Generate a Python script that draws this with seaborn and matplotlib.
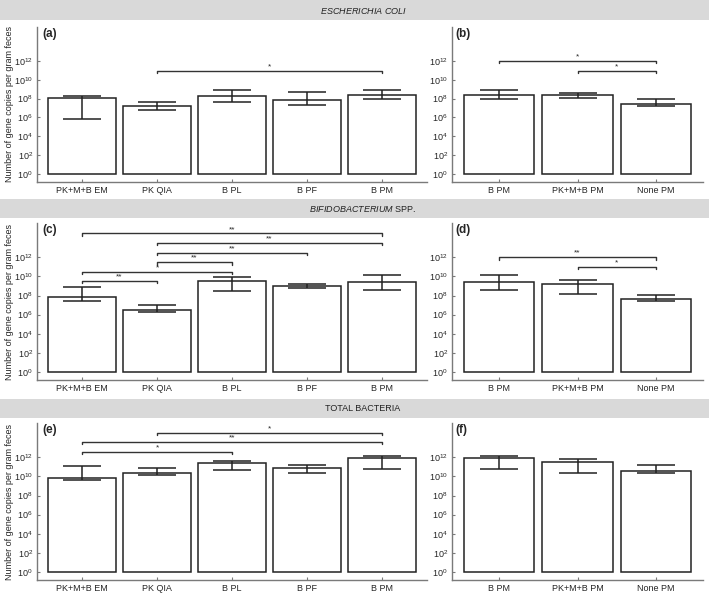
import numpy as np
import pandas as pd
import matplotlib
matplotlib.use("Agg")
import matplotlib.pyplot as plt
import seaborn as sns
from matplotlib.patches import Rectangle

# Valores en log10(copias de gen por gramo de heces)
left_cats = ["PK+M+B EM", "PK QIA", "B PL", "B PF", "B PM"]
right_cats = ["B PM", "PK+M+B PM", "None PM"]

# E. coli
a_mean = [8.07, 7.23, 8.25, 7.82, 8.39]
a_low = [5.79, 6.74, 7.68, 7.37, 7.96]
a_high = [8.25, 7.65, 8.88, 8.74, 8.91]
b_mean = [8.39, 8.39, 7.44]
b_low = [7.96, 8.04, 7.26]
b_high = [8.91, 8.56, 7.96]

# Bifidobacterium
c_mean = [7.87, 6.50, 9.55, 8.99, 9.44]
c_low = [7.45, 6.29, 8.50, 8.78, 8.53]
c_high = [8.88, 6.96, 9.97, 9.16, 10.14]
d_mean = [9.44, 9.23, 7.61]
d_low = [8.53, 8.14, 7.44]
d_high = [10.14, 9.68, 8.04]

# Bacterias totales
e_mean = [9.88, 10.41, 11.44, 10.87, 11.90]
e_low = [9.60, 10.20, 10.66, 10.38, 10.74]
e_high = [11.05, 10.87, 11.58, 11.22, 12.15]
f_mean = [11.90, 11.48, 10.60]
f_low = [10.74, 10.35, 10.35]
f_high = [12.15, 11.83, 11.16]

# Comparaciones significativas: (i, j, altura log10, etiqueta)
a_sig = [(1, 4, 10.95, "*")]
b_sig = [(0, 2, 12.0, "*"), (1, 2, 10.95, "*")]
c_sig = [(0, 1, 9.55, "**"), (0, 2, 10.5, "*"), (1, 2, 11.5, "**"),
         (1, 3, 12.5, "**"), (1, 4, 13.5, "**"), (0, 4, 14.5, "**")]
d_sig = [(0, 2, 12.0, "**"), (1, 2, 11.0, "*")]
e_sig = [(0, 2, 12.57, "*"), (0, 4, 13.6, "**"), (1, 4, 14.6, "*")]
f_sig = []

section_titles = [r"$\mathit{ESCHERICHIA\ COLI}$",
                  r"$\mathit{BIFIDOBACTERIUM}$ SPP.",
                  "TOTAL BACTERIA"]
panel_labels = ["(a)", "(b)", "(c)", "(d)", "(e)", "(f)"]
y_ticks = [0, 2, 4, 6, 8, 10, 12]

sns.set_style("white")
plt.rcParams["font.family"] = ["Liberation Sans", "DejaVu Sans"]
plt.rcParams["mathtext.fontset"] = "custom"
plt.rcParams["mathtext.rm"] = "Liberation Sans"
plt.rcParams["mathtext.it"] = "Liberation Sans:italic"
plt.rcParams["mathtext.bf"] = "Liberation Sans:bold"

W, H = 709, 596
fig = plt.figure(figsize=(W / 100, H / 100), dpi=100)

edge = "#222222"
spine_col = "#7a7a7a"


def draw_panel(ax, cats, mean, low, high, sig, label, ylabel):
    df = pd.DataFrame({"grupo": cats, "valor": mean})
    sns.barplot(data=df, x="grupo", y="valor", ax=ax, color="white",
                edgecolor=edge, linewidth=1.1, width=0.9, saturation=1,
                errorbar=None)
    mean = np.array(mean)
    yerr = [mean - np.array(low), np.array(high) - mean]
    ax.errorbar(np.arange(len(cats)), mean, yerr=yerr, fmt="none",
                ecolor=edge, elinewidth=1.1, capsize=13.5, capthick=1.1)
    for i, j, h, txt in sig:
        ax.plot([i, i, j, j], [h - 0.25, h, h, h - 0.25], color="#333333", lw=1.0)
        ax.text((i + j) / 2, h + 0.05, txt, ha="center", va="bottom", fontsize=6)
    ax.set_xlim(-0.6, len(cats) - 0.4)
    ax.set_ylim(-0.85, 15.6)
    ax.set_yticks(y_ticks)
    ax.set_yticklabels([r"$10^{%d}$" % k for k in y_ticks])
    ax.set_xlabel("")
    ax.set_ylabel("")
    for s in ["top", "right"]:
        ax.spines[s].set_visible(False)
    for s in ["left", "bottom"]:
        ax.spines[s].set_color(spine_col)
        ax.spines[s].set_linewidth(1.0)
    ax.tick_params(axis="both", direction="in", length=2, width=0.8,
                   color=spine_col, labelsize=6.5, pad=3, left=True, bottom=True)
    ax.text(0.015, 0.995, label, transform=ax.transAxes, fontsize=8.5,
            fontweight="bold", va="top", ha="left")
    if ylabel:
        ax.set_ylabel("Number of gene copies per gram feces", fontsize=6.5)
        ax.yaxis.set_label_coords(-0.058, 0.5)


# bandas grises con los titulos de seccion
bands = [(0, 20), (199, 218), (399, 418)]
for (y0, y1), title in zip(bands, section_titles):
    fig.patches.append(Rectangle((0, 1 - y1 / H), 1, (y1 - y0) / H,
                                 transform=fig.transFigure, facecolor="#d9d9d9",
                                 edgecolor="none", zorder=0))
    fig.text(363 / W, 1 - (y0 + y1) / 2 / H, title, ha="center", va="center",
             fontsize=6.5, color="#222222")

# posiciones de los ejes en pixeles (arriba, abajo)
rows = [(27, 182), (223, 380), (423, 580)]
left_x = (37, 427)
right_x = (452, 703)

panels = [
    (left_cats, a_mean, a_low, a_high, a_sig, right_cats, b_mean, b_low, b_high, b_sig),
    (left_cats, c_mean, c_low, c_high, c_sig, right_cats, d_mean, d_low, d_high, d_sig),
    (left_cats, e_mean, e_low, e_high, e_sig, right_cats, f_mean, f_low, f_high, f_sig),
]

for r, ((top, bot), p) in enumerate(zip(rows, panels)):
    yb = 1 - bot / H
    hh = (bot - top) / H
    axl = fig.add_axes([left_x[0] / W, yb, (left_x[1] - left_x[0]) / W, hh])
    axr = fig.add_axes([right_x[0] / W, yb, (right_x[1] - right_x[0]) / W, hh])
    draw_panel(axl, p[0], p[1], p[2], p[3], p[4], panel_labels[2 * r], True)
    draw_panel(axr, p[5], p[6], p[7], p[8], p[9], panel_labels[2 * r + 1], False)

fig.savefig("out.png", dpi=100)
